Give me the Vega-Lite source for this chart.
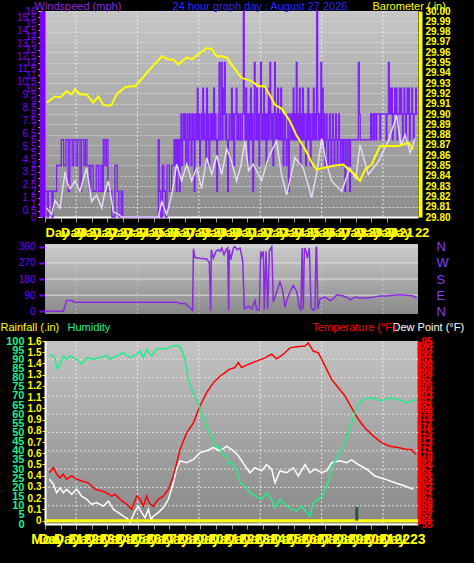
{
"$schema": "https://vega.github.io/schema/vega-lite/v6.json",
"background": "#000000",
"padding": {"left": 0, "top": 0, "right": 12, "bottom": 18},
"autosize": {"type": "pad"},
"bounds": "flush",
"spacing": 27,
"config": {"font": "Liberation Sans", "view": {"stroke": null}, "axis": {"labelFont": "Liberation Sans", "titleFont": "Liberation Sans"}},
"datasets": {
"vgrid": [{"t":2.0},{"t":5.95},{"t":9.9},{"t":13.85},{"t":17.8},{"t":21.75}],
"hgridD": [{"d":90},{"d":180},{"d":270},{"d":360}],
"hgridT": [{"temp":59},{"temp":63},{"temp":67},{"temp":71},{"temp":75},{"temp":79},{"temp":83},{"temp":87},{"temp":91}],
"gust": [{"t":0,"g":2},{"t":0.15,"g":0},{"t":0.22,"g":2},{"t":0.45,"g":0},{"t":0.52,"g":2},{"t":0.75,"g":4},{"t":1.05,"g":6},{"t":1.2,"g":4},{"t":1.35,"g":6},{"t":1.5,"g":2},{"t":1.6,"g":6},{"t":1.75,"g":4},{"t":1.85,"g":6},{"t":2.0,"g":4},{"t":2.1,"g":6},{"t":2.25,"g":2},{"t":2.35,"g":6},{"t":2.5,"g":4},{"t":2.6,"g":6},{"t":2.7,"g":4},{"t":2.85,"g":2},{"t":2.95,"g":4},{"t":3.1,"g":2},{"t":3.3,"g":4},{"t":3.45,"g":2},{"t":3.6,"g":4},{"t":3.7,"g":2},{"t":3.75,"g":6},{"t":3.85,"g":4},{"t":3.95,"g":6},{"t":4.05,"g":2},{"t":4.3,"g":0},{"t":4.5,"g":4},{"t":4.65,"g":2},{"t":4.75,"g":0},{"t":4.9,"g":2},{"t":5.0,"g":0},{"t":7.29,"g":6},{"t":7.35,"g":2},{"t":7.45,"g":0},{"t":7.55,"g":4},{"t":7.65,"g":2},{"t":7.75,"g":0},{"t":7.85,"g":4},{"t":8.0,"g":2},{"t":8.15,"g":4},{"t":8.3,"g":6},{"t":8.35,"g":4},{"t":8.4,"g":6},{"t":8.45,"g":2},{"t":8.5,"g":6},{"t":8.55,"g":4},{"t":8.6,"g":6},{"t":8.65,"g":2},{"t":8.7,"g":6},{"t":8.75,"g":8},{"t":8.8,"g":4},{"t":8.85,"g":6},{"t":8.9,"g":8},{"t":8.95,"g":6},{"t":9.0,"g":8},{"t":9.05,"g":4},{"t":9.1,"g":6},{"t":9.15,"g":8},{"t":9.2,"g":4},{"t":9.25,"g":6},{"t":9.3,"g":8},{"t":9.35,"g":6},{"t":9.4,"g":4},{"t":9.45,"g":8},{"t":9.5,"g":6},{"t":9.55,"g":8},{"t":9.6,"g":2},{"t":9.65,"g":6},{"t":9.7,"g":8},{"t":9.75,"g":6},{"t":9.8,"g":10},{"t":9.85,"g":6},{"t":9.9,"g":8},{"t":9.95,"g":4},{"t":10.0,"g":6},{"t":10.05,"g":8},{"t":10.1,"g":6},{"t":10.15,"g":10},{"t":10.2,"g":6},{"t":10.25,"g":8},{"t":10.3,"g":6},{"t":10.35,"g":4},{"t":10.4,"g":10},{"t":10.45,"g":6},{"t":10.5,"g":8},{"t":10.55,"g":4},{"t":10.6,"g":6},{"t":10.65,"g":8},{"t":10.7,"g":6},{"t":10.75,"g":8},{"t":10.8,"g":6},{"t":10.85,"g":10},{"t":10.9,"g":6},{"t":10.95,"g":8},{"t":11.0,"g":6},{"t":11.05,"g":2},{"t":11.1,"g":6},{"t":11.15,"g":8},{"t":11.2,"g":12},{"t":11.25,"g":6},{"t":11.3,"g":8},{"t":11.35,"g":12},{"t":11.4,"g":6},{"t":11.45,"g":10},{"t":11.5,"g":8},{"t":11.55,"g":12},{"t":11.6,"g":6},{"t":11.65,"g":8},{"t":11.7,"g":6},{"t":11.75,"g":2},{"t":11.8,"g":6},{"t":11.85,"g":8},{"t":11.9,"g":6},{"t":12.0,"g":10},{"t":12.05,"g":6},{"t":12.1,"g":8},{"t":12.15,"g":4},{"t":12.2,"g":8},{"t":12.3,"g":10},{"t":12.35,"g":6},{"t":12.4,"g":8},{"t":12.45,"g":6},{"t":12.55,"g":8},{"t":12.6,"g":6},{"t":12.7,"g":8},{"t":12.76,"g":16},{"t":12.82,"g":8},{"t":12.87,"g":6},{"t":12.92,"g":10},{"t":12.97,"g":6},{"t":13.02,"g":8},{"t":13.07,"g":4},{"t":13.12,"g":8},{"t":13.17,"g":6},{"t":13.22,"g":10},{"t":13.27,"g":6},{"t":13.32,"g":8},{"t":13.37,"g":2},{"t":13.42,"g":6},{"t":13.47,"g":12},{"t":13.52,"g":8},{"t":13.57,"g":6},{"t":13.62,"g":10},{"t":13.67,"g":6},{"t":13.72,"g":8},{"t":13.77,"g":4},{"t":13.82,"g":8},{"t":13.87,"g":12},{"t":13.92,"g":6},{"t":13.97,"g":8},{"t":14.02,"g":6},{"t":14.07,"g":10},{"t":14.12,"g":6},{"t":14.17,"g":8},{"t":14.22,"g":4},{"t":14.27,"g":8},{"t":14.32,"g":6},{"t":14.37,"g":10},{"t":14.42,"g":6},{"t":14.47,"g":12},{"t":14.52,"g":8},{"t":14.57,"g":6},{"t":14.62,"g":8},{"t":14.67,"g":4},{"t":14.72,"g":8},{"t":14.77,"g":12},{"t":14.82,"g":6},{"t":14.87,"g":8},{"t":14.92,"g":6},{"t":14.97,"g":10},{"t":15.02,"g":6},{"t":15.07,"g":8},{"t":15.12,"g":6},{"t":15.17,"g":10},{"t":15.22,"g":6},{"t":15.27,"g":8},{"t":15.32,"g":4},{"t":15.37,"g":6},{"t":15.42,"g":8},{"t":15.47,"g":6},{"t":15.52,"g":4},{"t":15.57,"g":6},{"t":15.62,"g":8},{"t":15.67,"g":2},{"t":15.72,"g":6},{"t":15.77,"g":8},{"t":15.82,"g":6},{"t":15.87,"g":8},{"t":15.92,"g":6},{"t":15.97,"g":10},{"t":16.02,"g":6},{"t":16.07,"g":8},{"t":16.12,"g":6},{"t":16.17,"g":12},{"t":16.22,"g":6},{"t":16.27,"g":8},{"t":16.32,"g":6},{"t":16.37,"g":10},{"t":16.42,"g":4},{"t":16.47,"g":8},{"t":16.52,"g":6},{"t":16.57,"g":10},{"t":16.62,"g":6},{"t":16.67,"g":8},{"t":16.72,"g":6},{"t":16.77,"g":4},{"t":16.82,"g":8},{"t":16.87,"g":6},{"t":16.92,"g":10},{"t":16.97,"g":6},{"t":17.02,"g":8},{"t":17.07,"g":4},{"t":17.12,"g":6},{"t":17.17,"g":8},{"t":17.22,"g":6},{"t":17.27,"g":10},{"t":17.32,"g":6},{"t":17.37,"g":8},{"t":17.42,"g":6},{"t":17.48,"g":16},{"t":17.54,"g":8},{"t":17.6,"g":6},{"t":17.65,"g":8},{"t":17.7,"g":6},{"t":17.75,"g":12},{"t":17.8,"g":6},{"t":17.85,"g":10},{"t":17.9,"g":6},{"t":17.95,"g":8},{"t":18.0,"g":4},{"t":18.05,"g":6},{"t":18.1,"g":8},{"t":18.15,"g":6},{"t":18.2,"g":4},{"t":18.25,"g":6},{"t":18.3,"g":8},{"t":18.35,"g":6},{"t":18.4,"g":4},{"t":18.45,"g":6},{"t":18.5,"g":8},{"t":18.55,"g":6},{"t":18.6,"g":4},{"t":18.65,"g":6},{"t":18.7,"g":8},{"t":18.75,"g":6},{"t":18.8,"g":4},{"t":18.85,"g":6},{"t":18.9,"g":8},{"t":18.95,"g":6},{"t":19.0,"g":4},{"t":19.05,"g":6},{"t":19.15,"g":4},{"t":19.2,"g":6},{"t":19.3,"g":2},{"t":19.35,"g":6},{"t":19.45,"g":4},{"t":19.5,"g":6},{"t":19.6,"g":2},{"t":19.65,"g":6},{"t":20.16,"g":12},{"t":20.22,"g":8},{"t":20.28,"g":6},{"t":20.9,"g":6},{"t":20.95,"g":8},{"t":21.0,"g":6},{"t":21.05,"g":8},{"t":21.15,"g":6},{"t":21.2,"g":8},{"t":21.3,"g":6},{"t":21.35,"g":8},{"t":21.5,"g":8},{"t":21.55,"g":6},{"t":21.6,"g":8},{"t":21.9,"g":8},{"t":21.95,"g":6},{"t":22.0,"g":8},{"t":22.1,"g":12},{"t":22.15,"g":8},{"t":22.2,"g":10},{"t":22.25,"g":8},{"t":22.3,"g":10},{"t":22.35,"g":6},{"t":22.4,"g":8},{"t":22.5,"g":10},{"t":22.55,"g":8},{"t":22.6,"g":10},{"t":22.65,"g":6},{"t":22.7,"g":8},{"t":22.8,"g":10},{"t":22.85,"g":8},{"t":22.9,"g":10},{"t":22.95,"g":8},{"t":23.0,"g":6},{"t":23.05,"g":8},{"t":23.1,"g":10},{"t":23.15,"g":8},{"t":23.2,"g":6},{"t":23.25,"g":8},{"t":23.3,"g":10},{"t":23.35,"g":8},{"t":23.4,"g":10},{"t":23.45,"g":6},{"t":23.5,"g":8},{"t":23.6,"g":10},{"t":23.65,"g":8},{"t":23.7,"g":6},{"t":23.75,"g":8},{"t":23.85,"g":10},{"t":23.9,"g":8},{"t":24,"g":8}],
"avg": [{"t":0.1,"a":0.7},{"t":0.43,"a":0.2},{"t":0.64,"a":1.3},{"t":0.97,"a":0.7},{"t":1.29,"a":3.5},{"t":1.45,"a":2.6},{"t":1.61,"a":2.2},{"t":1.93,"a":2.8},{"t":2.25,"a":2.0},{"t":2.45,"a":2.9},{"t":2.68,"a":3.8},{"t":3.0,"a":1.2},{"t":3.32,"a":1.7},{"t":3.65,"a":0.7},{"t":3.85,"a":1.9},{"t":4.08,"a":2.8},{"t":4.4,"a":0.4},{"t":4.72,"a":0.2},{"t":4.93,"a":0},{"t":7.29,"a":0},{"t":7.51,"a":1.2},{"t":7.83,"a":0.2},{"t":8.15,"a":1.7},{"t":8.47,"a":4.1},{"t":8.79,"a":2.8},{"t":9.12,"a":4.1},{"t":9.44,"a":2.8},{"t":9.76,"a":3.8},{"t":10.08,"a":2.2},{"t":10.4,"a":4.6},{"t":10.73,"a":3.3},{"t":11.05,"a":4.8},{"t":11.37,"a":3.3},{"t":11.69,"a":5.3},{"t":12.01,"a":4.3},{"t":12.33,"a":2.8},{"t":12.6,"a":4.0},{"t":12.87,"a":5.9},{"t":13.1,"a":3.6},{"t":13.4,"a":4.1},{"t":13.94,"a":2.8},{"t":14.37,"a":4.6},{"t":14.9,"a":5.9},{"t":15.2,"a":3.4},{"t":15.55,"a":1.7},{"t":16.08,"a":4.6},{"t":16.62,"a":3.8},{"t":16.9,"a":2.6},{"t":17.16,"a":1.5},{"t":17.5,"a":3.5},{"t":17.8,"a":6.1},{"t":18.1,"a":4.2},{"t":18.44,"a":2.8},{"t":19.09,"a":2.0},{"t":19.62,"a":3.8},{"t":20.0,"a":3.0},{"t":20.27,"a":5.6},{"t":20.8,"a":3.3},{"t":21.45,"a":4.3},{"t":22.09,"a":5.9},{"t":22.63,"a":7.9},{"t":22.9,"a":5.5},{"t":23.16,"a":6.4},{"t":23.5,"a":5.0},{"t":23.8,"a":6.1}],
"baro": [{"t":0.11,"p":29.911},{"t":0.64,"p":29.917},{"t":0.97,"p":29.916},{"t":1.39,"p":29.922},{"t":1.72,"p":29.919},{"t":1.93,"p":29.924},{"t":2.25,"p":29.919},{"t":2.68,"p":29.919},{"t":3.11,"p":29.911},{"t":3.43,"p":29.917},{"t":3.75,"p":29.909},{"t":4.08,"p":29.908},{"t":4.29,"p":29.909},{"t":4.61,"p":29.919},{"t":5.15,"p":29.926},{"t":5.47,"p":29.927},{"t":5.79,"p":29.927},{"t":6.11,"p":29.932},{"t":6.54,"p":29.94},{"t":6.97,"p":29.947},{"t":7.51,"p":29.956},{"t":7.94,"p":29.953},{"t":8.26,"p":29.953},{"t":8.58,"p":29.948},{"t":9.12,"p":29.955},{"t":9.44,"p":29.953},{"t":9.87,"p":29.958},{"t":10.4,"p":29.964},{"t":10.73,"p":29.963},{"t":11.05,"p":29.956},{"t":11.37,"p":29.956},{"t":11.69,"p":29.955},{"t":12.01,"p":29.948},{"t":12.65,"p":29.935},{"t":13.3,"p":29.932},{"t":13.72,"p":29.927},{"t":14.15,"p":29.927},{"t":14.8,"p":29.909},{"t":15.23,"p":29.905},{"t":15.76,"p":29.893},{"t":16.19,"p":29.879},{"t":16.73,"p":29.866},{"t":17.16,"p":29.853},{"t":17.48,"p":29.846},{"t":18.02,"p":29.848},{"t":18.66,"p":29.85},{"t":19.2,"p":29.851},{"t":19.62,"p":29.845},{"t":19.95,"p":29.841},{"t":20.27,"p":29.835},{"t":20.59,"p":29.846},{"t":21.02,"p":29.851},{"t":21.55,"p":29.869},{"t":22.09,"p":29.869},{"t":22.73,"p":29.869},{"t":23.38,"p":29.872},{"t":23.7,"p":29.866}],
"dir": [{"t":0.06,"d":0},{"t":1.18,"d":0},{"t":1.39,"d":60},{"t":1.72,"d":60},{"t":1.93,"d":51},{"t":8.47,"d":51},{"t":8.69,"d":42},{"t":9.0,"d":45},{"t":9.22,"d":28},{"t":9.44,"d":13},{"t":9.5,"d":0},{"t":9.55,"d":349},{"t":9.65,"d":300},{"t":9.97,"d":296},{"t":10.4,"d":292},{"t":10.57,"d":272},{"t":10.66,"d":4},{"t":10.7,"d":343},{"t":10.83,"d":296},{"t":11.0,"d":334},{"t":11.15,"d":343},{"t":11.26,"d":334},{"t":11.37,"d":353},{"t":11.52,"d":315},{"t":11.65,"d":343},{"t":11.75,"d":353},{"t":11.82,"d":4},{"t":11.86,"d":343},{"t":11.95,"d":287},{"t":12.12,"d":353},{"t":12.23,"d":360},{"t":12.38,"d":343},{"t":12.55,"d":353},{"t":12.72,"d":281},{"t":12.83,"d":13},{"t":13.08,"d":28},{"t":13.3,"d":13},{"t":13.51,"d":60},{"t":13.62,"d":9},{"t":13.79,"d":9},{"t":13.88,"d":334},{"t":13.94,"d":306},{"t":14.05,"d":334},{"t":14.11,"d":9},{"t":14.22,"d":334},{"t":14.33,"d":13},{"t":14.44,"d":338},{"t":14.59,"d":360},{"t":14.69,"d":51},{"t":14.91,"d":108},{"t":15.12,"d":164},{"t":15.29,"d":117},{"t":15.44,"d":23},{"t":15.59,"d":70},{"t":15.81,"d":117},{"t":15.98,"d":145},{"t":16.2,"d":108},{"t":16.37,"d":23},{"t":16.47,"d":4},{"t":16.54,"d":353},{"t":16.62,"d":13},{"t":16.69,"d":353},{"t":16.8,"d":334},{"t":16.88,"d":296},{"t":17.01,"d":353},{"t":17.12,"d":23},{"t":17.27,"d":4},{"t":17.37,"d":13},{"t":17.44,"d":353},{"t":17.48,"d":360},{"t":17.55,"d":13},{"t":17.7,"d":70},{"t":18.02,"d":79},{"t":18.34,"d":60},{"t":18.55,"d":70},{"t":18.77,"d":92},{"t":19.2,"d":85},{"t":19.52,"d":74},{"t":19.63,"d":64},{"t":19.95,"d":79},{"t":20.27,"d":74},{"t":20.7,"d":74},{"t":21.13,"d":79},{"t":21.56,"d":85},{"t":21.99,"d":85},{"t":22.42,"d":89},{"t":22.84,"d":92},{"t":23.27,"d":89},{"t":23.7,"d":85},{"t":23.92,"d":74}],
"hum": [{"t":0.32,"h":92.7},{"t":0.64,"h":90.9},{"t":0.79,"h":84.5},{"t":0.97,"h":87.4},{"t":1.18,"h":91.8},{"t":1.39,"h":90},{"t":1.61,"h":91.8},{"t":2.04,"h":90},{"t":2.36,"h":87.4},{"t":2.68,"h":90.9},{"t":3.11,"h":90},{"t":3.54,"h":90.9},{"t":3.97,"h":92},{"t":4.18,"h":90},{"t":4.61,"h":91.8},{"t":5.04,"h":93.6},{"t":5.47,"h":90.9},{"t":5.9,"h":92.7},{"t":6.11,"h":94.5},{"t":6.33,"h":90.9},{"t":6.54,"h":95.4},{"t":6.86,"h":91.8},{"t":7.19,"h":95.8},{"t":7.83,"h":95.8},{"t":8.15,"h":97.3},{"t":8.58,"h":97.5},{"t":8.79,"h":95.4},{"t":9.01,"h":90},{"t":9.22,"h":79},{"t":9.44,"h":73.6},{"t":9.65,"h":70},{"t":9.87,"h":66.3},{"t":10.08,"h":60},{"t":10.3,"h":56.3},{"t":10.51,"h":50.8},{"t":10.73,"h":48},{"t":10.94,"h":42.6},{"t":11.26,"h":41.7},{"t":11.48,"h":37.2},{"t":11.69,"h":37.2},{"t":11.8,"h":32.6},{"t":12.01,"h":33.5},{"t":12.33,"h":29.9},{"t":12.55,"h":22.6},{"t":12.87,"h":20.8},{"t":13.19,"h":17.1},{"t":13.51,"h":15.3},{"t":13.94,"h":13.5},{"t":14.26,"h":17.1},{"t":14.58,"h":13.5},{"t":14.8,"h":8.9},{"t":15.12,"h":13.5},{"t":15.55,"h":9.8},{"t":15.87,"h":8},{"t":16.19,"h":7.1},{"t":16.51,"h":9.8},{"t":16.84,"h":6.2},{"t":17.05,"h":4.4},{"t":17.26,"h":11.6},{"t":17.59,"h":13.5},{"t":17.91,"h":16.2},{"t":18.23,"h":22.6},{"t":18.44,"h":30.8},{"t":18.87,"h":37.2},{"t":19.2,"h":42.6},{"t":19.52,"h":49.9},{"t":19.84,"h":58.1},{"t":20.16,"h":65.4},{"t":20.48,"h":68.1},{"t":21.02,"h":69},{"t":21.66,"h":67.2},{"t":22.09,"h":69},{"t":22.73,"h":68.1},{"t":23.27,"h":66.3},{"t":23.59,"h":67.2},{"t":23.91,"h":68.1}],
"temp": [{"t":0.28,"temp":66.2},{"t":0.54,"temp":67.3},{"t":0.75,"temp":65.9},{"t":0.97,"temp":65.1},{"t":1.18,"temp":65.9},{"t":1.39,"temp":64.8},{"t":1.72,"temp":65.5},{"t":2.04,"temp":64.8},{"t":2.36,"temp":64.4},{"t":2.79,"temp":64.0},{"t":3.22,"temp":62.6},{"t":3.65,"temp":62.2},{"t":3.97,"temp":61.8},{"t":4.29,"temp":61.1},{"t":4.5,"temp":61.5},{"t":4.83,"temp":60.4},{"t":5.26,"temp":59.3},{"t":5.58,"temp":58.2},{"t":5.9,"temp":61.1},{"t":6.11,"temp":60.4},{"t":6.33,"temp":58.9},{"t":6.54,"temp":61.1},{"t":6.76,"temp":59.3},{"t":6.97,"temp":58.9},{"t":7.29,"temp":60.4},{"t":7.61,"temp":61.1},{"t":7.94,"temp":62.6},{"t":8.26,"temp":65.5},{"t":8.69,"temp":71.3},{"t":9.12,"temp":75},{"t":9.55,"temp":77.1},{"t":9.97,"temp":80.8},{"t":10.4,"temp":83.7},{"t":10.83,"temp":85.9},{"t":11.26,"temp":87.3},{"t":11.58,"temp":88.1},{"t":11.86,"temp":88.8},{"t":12.22,"temp":89.2},{"t":12.44,"temp":90.3},{"t":12.65,"temp":89.2},{"t":13.08,"temp":89.9},{"t":13.62,"temp":90.6},{"t":14.15,"temp":91.3},{"t":14.58,"temp":92.1},{"t":14.9,"temp":91.1},{"t":15.33,"temp":92.1},{"t":15.76,"temp":93.5},{"t":16.3,"temp":93.8},{"t":16.73,"temp":93.9},{"t":16.94,"temp":94.6},{"t":17.26,"temp":92.8},{"t":17.59,"temp":92.4},{"t":18.02,"temp":89.5},{"t":18.44,"temp":86.6},{"t":18.87,"temp":84.8},{"t":19.3,"temp":83},{"t":19.73,"temp":80.4},{"t":20.16,"temp":77.9},{"t":20.59,"temp":76},{"t":21.13,"temp":74.2},{"t":21.66,"temp":72.8},{"t":22.2,"temp":72},{"t":22.73,"temp":71.7},{"t":23.27,"temp":71.3},{"t":23.59,"temp":71.3},{"t":23.85,"temp":70.2}],
"dew": [{"t":0.28,"dew":64.8},{"t":0.54,"dew":63.7},{"t":0.75,"dew":61.8},{"t":0.97,"dew":62.9},{"t":1.18,"dew":61.8},{"t":1.39,"dew":62.6},{"t":1.72,"dew":61.5},{"t":2.04,"dew":62.6},{"t":2.36,"dew":61.1},{"t":2.68,"dew":60.4},{"t":3.0,"dew":59.3},{"t":3.32,"dew":59.7},{"t":3.75,"dew":58.9},{"t":4.08,"dew":60},{"t":4.4,"dew":58.2},{"t":4.72,"dew":57.5},{"t":5.04,"dew":56.7},{"t":5.3,"dew":56.2},{"t":5.47,"dew":55.3},{"t":5.79,"dew":57.8},{"t":6.0,"dew":58.9},{"t":6.22,"dew":57.5},{"t":6.44,"dew":56.4},{"t":6.65,"dew":58.2},{"t":6.82,"dew":56},{"t":6.97,"dew":56.7},{"t":7.29,"dew":57.5},{"t":7.61,"dew":58.6},{"t":7.94,"dew":60.4},{"t":8.26,"dew":64},{"t":8.47,"dew":67},{"t":8.69,"dew":68.8},{"t":9.12,"dew":68.4},{"t":9.55,"dew":69.1},{"t":9.97,"dew":70.6},{"t":10.4,"dew":71},{"t":10.83,"dew":71.7},{"t":11.26,"dew":71},{"t":11.69,"dew":72},{"t":12.12,"dew":71},{"t":12.44,"dew":69.9},{"t":12.87,"dew":67.7},{"t":13.19,"dew":66.2},{"t":13.51,"dew":67.3},{"t":13.94,"dew":66.6},{"t":14.26,"dew":68},{"t":14.58,"dew":67},{"t":14.8,"dew":64},{"t":15.12,"dew":66.6},{"t":15.55,"dew":66.2},{"t":15.98,"dew":67.3},{"t":16.3,"dew":65.5},{"t":16.73,"dew":68},{"t":17.05,"dew":66.2},{"t":17.37,"dew":67},{"t":17.8,"dew":66.2},{"t":18.12,"dew":66.6},{"t":18.44,"dew":68.4},{"t":18.98,"dew":68.8},{"t":19.41,"dew":68.4},{"t":19.73,"dew":69},{"t":20.16,"dew":68},{"t":20.7,"dew":67},{"t":21.23,"dew":65.5},{"t":21.88,"dew":64.8},{"t":22.52,"dew":64},{"t":23.16,"dew":63.3},{"t":23.7,"dew":62.6}],
"rain": [{"t":0,"r":0},{"t":2,"r":0},{"t":4,"r":0},{"t":6,"r":0},{"t":8,"r":0},{"t":10,"r":0},{"t":12,"r":0},{"t":14,"r":0},{"t":16,"r":0},{"t":18,"r":0},{"t":20,"r":0},{"t":22,"r":0},{"t":24,"r":0}],
"rainbar": [{"t":20.06,"r":0.12}]
},
"vconcat": [
{
"width": 373, "height": 206,
"view": {"stroke": null, "fill": {"gradient": "linear", "x1": 0, "y1": 0, "x2": 0, "y2": 1, "stops": [{"offset": 0, "color": "#c6c6c6"}, {"offset": 1, "color": "#8c8c8c"}]}},
"resolve": {"scale": {"y": "independent"}, "axis": {"x": "independent"}},
"layer": [
{"data": {"name": "vgrid"}, "mark": {"type": "rule", "color": "#e8e8e8", "strokeDash": [2, 2]},
 "encoding": {"x": {"field": "t", "type": "quantitative", "scale": {"domain": [0, 24], "nice": false, "zero": false},
  "axis": {"orient": "bottom", "values": [0,1,2,3,4,5,6,7,8,9,10,11,12,13,14,15,16,17,18,19,20,21,22], "labelExpr": "'Day ' + (20 + datum.value % 10)", "labelAlign": "left", "labelColor": "#ffff00", "labelFontSize": 13, "labelFontWeight": "bold", "labelOverlap": false, "labelFlush": false, "labelPadding": 4, "tickColor": "#9a9a9a", "tickSize": 5, "domainColor": "#ffffff", "domainWidth": 2, "grid": false, "title": null}}}},
{"data": {"name": "gust"}, "mark": {"type": "line", "interpolate": "step-after", "color": "#7f1fff", "strokeWidth": 1.3},
 "encoding": {
  "x": {"field": "t", "type": "quantitative", "scale": {"domain": [0, 24], "nice": false, "zero": false},
   "axis": {"orient": "top", "title": "24 hour graph day : August 27 2026", "titleColor": "#2a2aff", "titleFontSize": 11, "titleFontWeight": "normal", "titleX": 127, "titleY": -2, "titleAlign": "left", "titleAnchor": "start", "titleBaseline": "alphabetic", "titleAngle": 0, "labels": false, "ticks": false, "domain": false, "grid": false}},
  "y": {"field": "g", "type": "quantitative", "scale": {"domain": [0, 16], "nice": false, "zero": false},
   "axis": {"orient": "left", "values": [0,0.5,1,1.5,2,2.5,3,3.5,4,4.5,5,5.5,6,6.5,7,7.5,8,8.5,9,9.5,10,10.5,11,11.5,12,12.5,13,13.5,14,14.5,15,15.5,16], "labelExpr": "format(datum.value, '~g')", "labelColor": "#7a00ff", "labelFontSize": 10, "labelOverlap": false, "labelPadding": 2, "tickColor": "#ffffff", "tickSize": 4, "domainColor": "#8000ff", "domainWidth": 6, "offset": 3, "grid": false, "title": "Windspeed (mph)", "titleColor": "#8a2be2", "titleFontSize": 11, "titleFontWeight": "normal", "titleAngle": 0, "titleX": -8, "titleY": -2, "titleAlign": "left", "titleAnchor": "start", "titleBaseline": "alphabetic"}}}},
{"data": {"name": "avg"}, "mark": {"type": "line", "color": "#e4d8f4", "strokeWidth": 1.5},
 "encoding": {
  "x": {"field": "t", "type": "quantitative", "scale": {"domain": [0, 24], "nice": false, "zero": false}, "axis": null},
  "y": {"field": "a", "type": "quantitative", "scale": {"domain": [0, 16], "nice": false, "zero": false}, "axis": null}}},
{"data": {"name": "baro"}, "mark": {"type": "line", "color": "#ffff00", "strokeWidth": 2},
 "encoding": {
  "x": {"field": "t", "type": "quantitative", "scale": {"domain": [0, 24], "nice": false, "zero": false}, "axis": null},
  "y": {"field": "p", "type": "quantitative", "scale": {"domain": [29.8, 30.0], "nice": false, "zero": false},
   "axis": {"orient": "right", "values": [29.8,29.81,29.82,29.83,29.84,29.85,29.86,29.87,29.88,29.89,29.9,29.91,29.92,29.93,29.94,29.95,29.96,29.97,29.98,29.99,30.0], "format": ".2f", "labelColor": "#ffff00", "labelFontSize": 10, "labelFontWeight": "bold", "labelOverlap": false, "labelPadding": 2, "tickColor": "#000000", "tickSize": 3, "domainColor": "#ffff00", "domainWidth": 4, "offset": 2, "grid": true, "gridColor": "#e0e0e0", "gridDash": [2, 2], "gridOpacity": 0.8, "title": "Barometer (.in)", "titleColor": "#ffff00", "titleFontSize": 11, "titleFontWeight": "normal", "titleAngle": 0, "titleX": -48, "titleY": -2, "titleAlign": "left", "titleAnchor": "start", "titleBaseline": "alphabetic"}}}}
]
},
{
"width": 373, "height": 70,
"view": {"stroke": null, "fill": {"gradient": "linear", "x1": 0, "y1": 0, "x2": 0, "y2": 1, "stops": [{"offset": 0, "color": "#cccccc"}, {"offset": 1, "color": "#8a8a8a"}]}},
"resolve": {"axis": {"y": "independent"}},
"layer": [
{"data": {"name": "vgrid"}, "mark": {"type": "rule", "color": "#d0d0d0", "strokeDash": [2, 2], "opacity": 0.6},
 "encoding": {"x": {"field": "t", "type": "quantitative", "scale": {"domain": [0, 24], "nice": false, "zero": false}, "axis": null}}},
{"data": {"name": "hgridD"}, "mark": {"type": "rule", "color": "#dedede", "strokeWidth": 1},
 "encoding": {"y": {"field": "d", "type": "quantitative", "scale": {"domain": [-15, 375], "nice": false, "zero": false},
  "axis": {"orient": "right", "values": [0, 90, 180, 270, 360], "labelExpr": "datum.value == 90 ? 'E' : datum.value == 180 ? 'S' : datum.value == 270 ? 'W' : 'N'", "labelColor": "#8040ff", "labelFontSize": 13, "labelPadding": 18, "ticks": false, "domain": false, "grid": false, "title": null}}}},
{"data": {"name": "dir"}, "mark": {"type": "line", "color": "#8a2be2", "strokeWidth": 1.5},
 "encoding": {
  "x": {"field": "t", "type": "quantitative", "scale": {"domain": [0, 24], "nice": false, "zero": false}, "axis": null},
  "y": {"field": "d", "type": "quantitative", "scale": {"domain": [-15, 375], "nice": false, "zero": false},
   "axis": {"orient": "left", "values": [0, 90, 180, 270, 360], "labelColor": "#7a00ff", "labelFontSize": 10, "labelPadding": 4, "tickColor": "#7a00ff", "tickSize": 6, "tickWidth": 2, "domain": false, "grid": false, "title": null}}}}
]
},
{
"width": 373, "height": 183,
"view": {"stroke": null, "fill": {"gradient": "linear", "x1": 0, "y1": 0, "x2": 0, "y2": 1, "stops": [{"offset": 0, "color": "#c4c4c4"}, {"offset": 1, "color": "#888888"}]}},
"resolve": {"scale": {"y": "independent"}, "axis": {"x": "independent"}},
"layer": [
{"data": {"name": "vgrid"}, "mark": {"type": "rule", "color": "#e8e8e8", "strokeDash": [2, 2]},
 "encoding": {"x": {"field": "t", "type": "quantitative", "scale": {"domain": [0, 24], "nice": false, "zero": false},
  "axis": {"orient": "bottom", "values": [0,1,2,3,4,5,6,7,8,9,10,11,12,13,14,15,16,17,18,19,20,21,22,23], "labelExpr": "datum.value == 0 ? 'Mon' : 'Day ' + (20 + datum.value % 10)", "labelAlign": "center", "labelColor": "#ffff00", "labelFontSize": 14, "labelFontWeight": "bold", "labelOverlap": false, "labelFlush": false, "labelPadding": 3, "tickColor": "#9a9a9a", "tickSize": 5, "domainColor": "#ffffff", "domainWidth": 2, "grid": false, "title": null}}}},
{"data": {"name": "hgridT"}, "mark": {"type": "rule", "color": "#dcdcdc", "strokeDash": [2, 2]},
 "encoding": {"y": {"field": "temp", "type": "quantitative", "scale": {"domain": [55, 95], "nice": false, "zero": false},
  "axis": {"orient": "right", "offset": 1, "values": [55,56,57,58,59,60,61,62,63,64,65,66,67,68,69,70,71,72,73,74,75,76,77,78,79,80,81,82,83,84,85,86,87,88,89,90,91,92,93,94,95], "labelColor": "#ff0000", "labelFontSize": 10, "labelFontWeight": "bold", "labelOverlap": false, "labelPadding": 2, "ticks": false, "tickSize": 0, "domainColor": "#ff0000", "domainWidth": 4, "grid": false, "title": "Temperature (°F)", "titleColor": "#ff0000", "titleFontSize": 11, "titleFontWeight": "normal", "titleAngle": 0, "titleX": -107, "titleY": -11, "titleAlign": "left", "titleAnchor": "start", "titleBaseline": "alphabetic"}}}},
{"data": {"name": "temp"}, "mark": {"type": "line", "color": "#ff0000", "strokeWidth": 1.5},
 "encoding": {
  "x": {"field": "t", "type": "quantitative", "scale": {"domain": [0, 24], "nice": false, "zero": false}, "axis": null},
  "y": {"field": "temp", "type": "quantitative", "scale": {"domain": [55, 95], "nice": false, "zero": false}, "axis": null}}},
{"data": {"name": "dew"}, "mark": {"type": "line", "color": "#ffffff", "strokeWidth": 1.5},
 "encoding": {
  "x": {"field": "t", "type": "quantitative", "scale": {"domain": [0, 24], "nice": false, "zero": false}, "axis": null},
  "y": {"field": "dew", "type": "quantitative", "scale": {"domain": [55, 95], "nice": false, "zero": false}, "axis": null}}},
{"data": {"name": "rain"}, "mark": {"type": "line", "color": "#ffff00", "strokeWidth": 3},
 "encoding": {
  "x": {"field": "t", "type": "quantitative", "scale": {"domain": [0, 24], "nice": false, "zero": false}, "axis": null},
  "y": {"field": "r", "type": "quantitative", "scale": {"domain": [-0.03, 1.6], "nice": false, "zero": false},
   "axis": {"orient": "left", "values": [0,0.1,0.2,0.3,0.4,0.5,0.6,0.7,0.8,0.9,1.0,1.1,1.2,1.3,1.4,1.5,1.6], "labelExpr": "datum.value == 0 ? '0' : format(datum.value, '.1f')", "labelColor": "#ffff00", "labelFontSize": 10, "labelFontWeight": "bold", "labelOverlap": false, "labelPadding": 1, "tickColor": "#ffff00", "tickSize": 3, "domainColor": "#ffffff", "domainWidth": 2, "grid": false, "title": "Rainfall (.in)", "titleColor": "#ffff00", "titleFontSize": 11, "titleFontWeight": "normal", "titleAngle": 0, "titleX": -45, "titleY": -11, "titleAlign": "left", "titleAnchor": "start", "titleBaseline": "alphabetic"}}}},
{"data": {"name": "rainbar"}, "mark": {"type": "rule", "color": "#2f5a2f", "strokeWidth": 3},
 "encoding": {
  "x": {"field": "t", "type": "quantitative", "scale": {"domain": [0, 24], "nice": false, "zero": false}, "axis": null},
  "y": {"field": "r", "type": "quantitative", "scale": {"domain": [-0.03, 1.6], "nice": false, "zero": false}, "axis": null},
  "y2": {"datum": 0}}},
{"data": {"name": "hum"}, "mark": {"type": "line", "color": "#22ee88", "strokeWidth": 1.5},
 "encoding": {
  "x": {"field": "t", "type": "quantitative", "scale": {"domain": [0, 24], "nice": false, "zero": false},
   "axis": {"orient": "top", "title": "Dew Point (°F)", "titleColor": "#ffffff", "titleFontSize": 11, "titleFontWeight": "normal", "titleX": 347, "titleY": -11, "titleAlign": "left", "titleAnchor": "start", "titleBaseline": "alphabetic", "titleAngle": 0, "labels": false, "ticks": false, "domain": false, "grid": false}},
  "y": {"field": "h", "type": "quantitative", "scale": {"domain": [0, 100], "nice": false, "zero": false},
   "axis": {"orient": "left", "offset": 21, "values": [0,5,10,15,20,25,30,35,40,45,50,55,60,65,70,75,80,85,90,95,100], "labelColor": "#22ee88", "labelFontSize": 11, "labelFontWeight": "bold", "labelOverlap": false, "labelPadding": 0, "ticks": false, "tickSize": 0, "domain": false, "grid": false, "title": "Humidity", "titleColor": "#22ee88", "titleFontSize": 11, "titleFontWeight": "normal", "titleAngle": 0, "titleX": 43, "titleY": -11, "titleAlign": "left", "titleAnchor": "start", "titleBaseline": "alphabetic"}}}}
]
}
]
}
